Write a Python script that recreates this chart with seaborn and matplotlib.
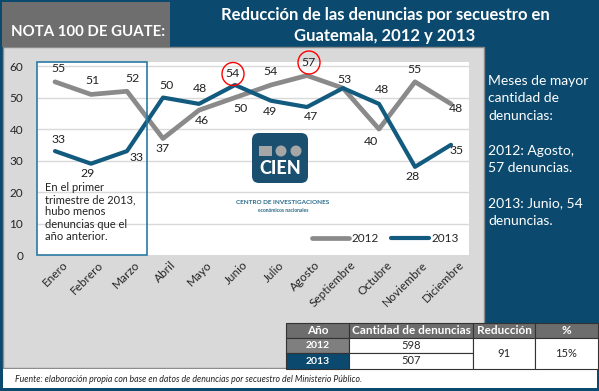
import numpy as np
import pandas as pd
import seaborn as sns
import matplotlib.pyplot as plt
from matplotlib.patches import Rectangle, FancyBboxPatch, Ellipse
import matplotlib.transforms as mtransforms

# datos
meses = ['Enero', 'Febrero', 'Marzo', 'Abril', 'Mayo', 'Junio', 'Julio',
         'Agosto', 'Septiembre', 'Octubre', 'Noviembre', 'Diciembre']
den_2012 = [55, 51, 52, 37, 46, 50, 54, 57, 53, 40, 55, 48]
den_2013 = [33, 29, 33, 50, 48, 54, 49, 47, 53, 48, 28, 35]
anios = ['2012', '2013']
totales = ['598', '507']
reduccion = '91'
porcentaje = '15%'

df = pd.DataFrame({
    'mes': meses * 2,
    'denuncias': den_2012 + den_2013,
    'anio': [anios[0]] * 12 + [anios[1]] * 12,
})

sns.set_style('white')
plt.rcParams['font.family'] = ['Lato', 'DejaVu Sans']

AZUL = '#0b4a6e'
AZUL_LINEA = '#135a7f'
GRIS_LINEA = '#8a8a8a'
GRIS_PANEL = '#d9d9d9'

W, H = 599, 391
fig = plt.figure(figsize=(W / 100, H / 100), dpi=100, facecolor=AZUL)

# fondo en pixeles
bg = fig.add_axes([0, 0, 1, 1])
bg.set_xlim(0, W)
bg.set_ylim(H, 0)
bg.axis('off')

bg.add_patch(Rectangle((3, 47), 481, 321, facecolor=GRIS_PANEL, edgecolor='#8c8c8c', lw=1))
bg.add_patch(Rectangle((2, 2), 168, 45, facecolor='#6e6e6e', edgecolor='none'))
bg.text(11, 32, 'NOTA 100 DE GUATE:', color='white', fontsize=10.8, fontweight='bold', va='center')
bg.text(385, 15, 'Reducción de las denuncias por secuestro en', color='white',
        fontsize=12, fontweight='bold', ha='center', va='center')
bg.text(385, 36, 'Guatemala, 2012 y 2013', color='white',
        fontsize=12, fontweight='bold', ha='center', va='center')

bg.text(488, 75, 'Meses de mayor\ncantidad de\ndenuncias:\n\n2012: Agosto,\n57 denuncias.\n\n2013: Junio, 54\ndenuncias.',
        color='white', fontsize=10, va='top', ha='left', linespacing=1.55)

# pie
bg.add_patch(Rectangle((3, 369), 594, 19, facecolor='white', edgecolor='none'))
bg.text(15, 380, 'Fuente: elaboración propia con base en datos de denuncias por secuestro del Ministerio Público.',
        fontsize=6.3, style='italic', va='center', color='#222222')

# tabla
cols = [286, 349, 473, 535, 598]
filas = [323, 338, 353, 369]
encabezado = ['Año', 'Cantidad de denuncias', 'Reducción', '%']
for i, t in enumerate(encabezado):
    bg.add_patch(Rectangle((cols[i], filas[0]), cols[i + 1] - cols[i], filas[1] - filas[0],
                           facecolor='#6d6d6d', edgecolor='#333333', lw=0.8))
    bg.text((cols[i] + cols[i + 1]) / 2, (filas[0] + filas[1]) / 2, t, color='white',
            fontsize=8.5, fontweight='bold', ha='center', va='center')
for j, (a, tot) in enumerate(zip(anios, totales)):
    y0, y1 = filas[j + 1], filas[j + 2]
    bg.add_patch(Rectangle((cols[0], y0), cols[1] - cols[0], y1 - y0,
                           facecolor=['#7f7f7f', AZUL][j], edgecolor='#333333', lw=0.8))
    bg.text((cols[0] + cols[1]) / 2, (y0 + y1) / 2, a, color='white', fontsize=7.5,
            fontweight='bold', ha='center', va='center')
    bg.add_patch(Rectangle((cols[1], y0), cols[2] - cols[1], y1 - y0,
                           facecolor='white', edgecolor='#333333', lw=0.8))
    bg.text((cols[1] + cols[2]) / 2, (y0 + y1) / 2, tot, fontsize=8, ha='center', va='center')
for k, t in zip([2, 3], [reduccion, porcentaje]):
    bg.add_patch(Rectangle((cols[k], filas[1]), cols[k + 1] - cols[k], filas[3] - filas[1],
                           facecolor='white', edgecolor='#333333', lw=0.8))
    bg.text((cols[k] + cols[k + 1]) / 2, (filas[1] + filas[3]) / 2, t, fontsize=8,
            ha='center', va='center')

# grafica
x0, y0, x1, y1 = 37, 62, 469, 255
ax = fig.add_axes([x0 / W, 1 - y1 / H, (x1 - x0) / W, (y1 - y0) / H])
ax.set_facecolor('white')
sns.lineplot(data=df, x='mes', y='denuncias', hue='anio', hue_order=anios,
             palette=[GRIS_LINEA, AZUL_LINEA], linewidth=3.4, ax=ax, legend=False,
             sort=False)
ax.lines[1].set_linewidth(3.0)
ax.set_xlim(-0.5, 11.5)
ax.set_ylim(0, 61.3)
ax.set_yticks(range(0, 61, 10))
ax.set_xticks(range(12))
ax.set_xticklabels(meses, rotation=45, ha='right', rotation_mode='anchor', fontsize=8.5)
ax.tick_params(axis='y', labelsize=8.5, pad=10, length=0)
ax.tick_params(axis='x', length=0, pad=3)
for lab in ax.get_xticklabels():
    lab.set_transform(lab.get_transform() + mtransforms.ScaledTranslation(7 / 100, 0, fig.dpi_scale_trans))
ax.set_xlabel('')
ax.set_ylabel('')
for s in ax.spines.values():
    s.set_visible(False)
for v in range(10, 61, 10):
    ax.axhline(v, color='#d9d9d9', lw=1, zorder=0)

# etiquetas de valores
off_2012 = [(3, 13), (1, 14), (6, 13), (0, -10), (3, -10), (5, -11), (-1, 13),
            (2, 13), (1, 9), (-8, -12), (-1, 12), (5, -5)]
off_2013 = [(3, 12), (-3, -10), (10, -6), (4, 12), (1, 15), (-2, 11), (-1, -11),
            (4, -9), None, (3, 14), (-2, -10), (6, -6)]
for serie, offs in [(den_2012, off_2012), (den_2013, off_2013)]:
    for i, (v, o) in enumerate(zip(serie, offs)):
        if o is None:
            continue
        ax.annotate(str(v), (i, v), xytext=o, textcoords='offset pixels',
                    ha='center', va='center', fontsize=8.8, color='#222222',
                    annotation_clip=False)

# circulos rojos
for i, v, o in [(5, den_2013[5], off_2013[5]), (7, den_2012[7], off_2012[7])]:
    px, py = ax.transData.transform((i, v))
    ax.add_patch(Ellipse((px + o[0], py + o[1]), 22, 23, transform=None, fill=False,
                         edgecolor='red', lw=1.0, clip_on=False, zorder=5))

# recuadro primer trimestre
trans = mtransforms.blended_transform_factory(ax.transData, ax.transAxes)
ax.add_patch(Rectangle((-0.5, 0.0), 3.05, 1.0, transform=trans, fill=False,
                       edgecolor='#2a7aa3', lw=1.2, clip_on=False, zorder=4))
ax.text(-0.27, 0.38, 'En el primer\ntrimestre de 2013,\nhubo menos\ndenuncias que el\naño anterior.',
        transform=trans, fontsize=8, va='top', ha='left', linespacing=1.15, color='#222222')

# leyenda
ax.legend(ax.lines[:2], anios, loc='lower right', ncol=2, frameon=False,
          fontsize=8.5, handlelength=3.2, columnspacing=1.0, handletextpad=0.2,
          bbox_to_anchor=(1.0, 0.0))

# logo
ax.add_patch(FancyBboxPatch((256, 137), 48, 42, boxstyle='round,pad=4,rounding_size=7',
                            transform=bg.transData, facecolor='#1a4f70', edgecolor='none',
                            clip_on=False, zorder=1))
ax.add_patch(Rectangle((259, 146), 13, 10, transform=bg.transData, facecolor='#a6a6a6',
                       edgecolor='none', clip_on=False, zorder=1))
for cx in [281, 296]:
    ax.add_patch(Ellipse((cx, 151), 11, 11, transform=bg.transData, facecolor='#a6a6a6',
                         edgecolor='none', clip_on=False, zorder=1))
ax.text(280, 169, 'CIEN', transform=bg.transData, color='white', fontsize=13,
        fontweight='black', ha='center', va='center', zorder=1)
ax.text(283, 202, 'CENTRO DE INVESTIGACIONES', transform=bg.transData, color='#2a6a8a',
        fontsize=4.6, fontweight='bold', ha='center', va='center', zorder=1)
ax.text(283, 210, 'económicos nacionales', transform=bg.transData, color='#2a6a8a',
        fontsize=3.6, fontweight='bold', ha='center', va='center', zorder=1)

fig.savefig('out.png', dpi=100, facecolor=AZUL)
